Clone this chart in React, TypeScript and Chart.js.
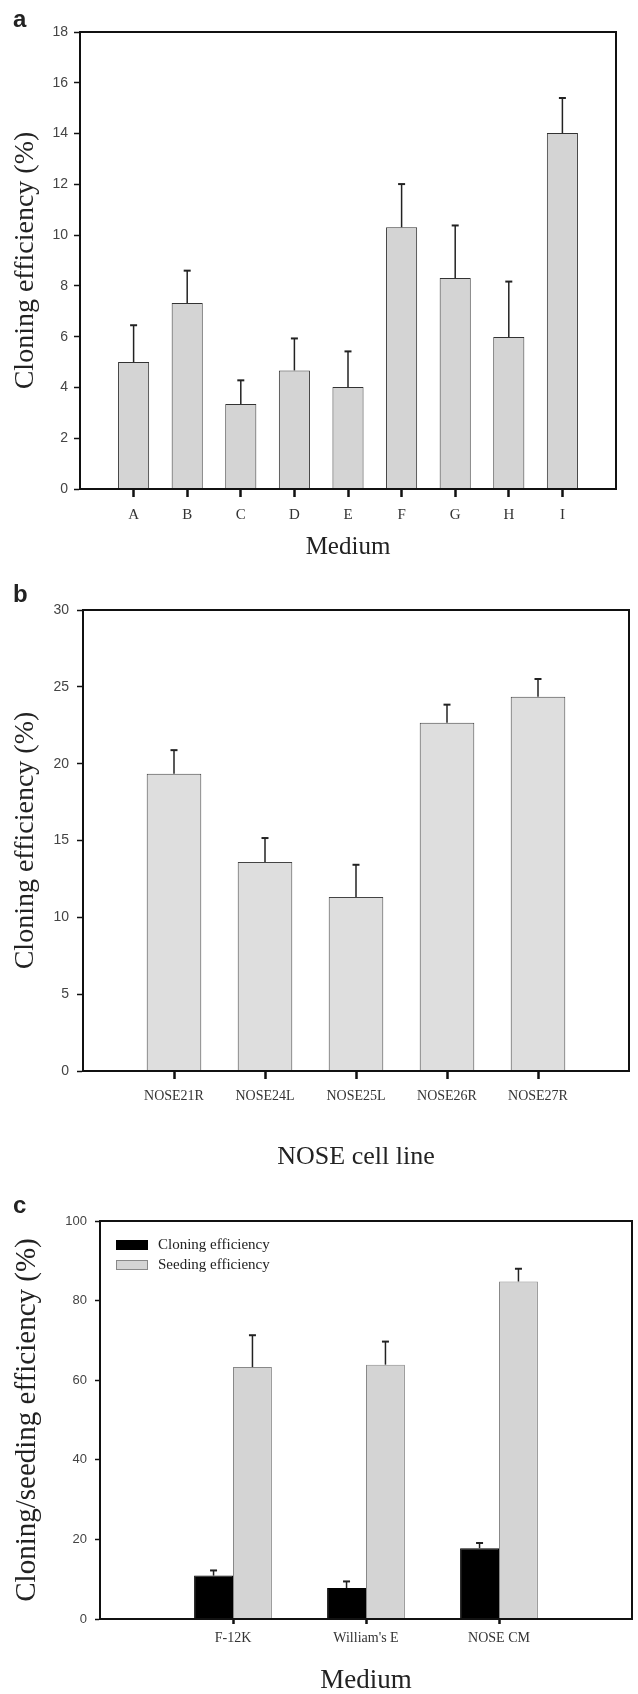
import React, { useEffect, useRef } from 'react';
import { Chart, registerables } from 'chart.js';
Chart.register(...registerables);

const SERIF = "'Liberation Serif', 'Times New Roman', serif";
const SANS = "'Liberation Sans', Arial, sans-serif";

// ---- Panel a ----
const A_CATEGORIES = ['A', 'B', 'C', 'D', 'E', 'F', 'G', 'H', 'I'];
const A_VALUES = [5.0, 7.33, 3.35, 4.67, 4.02, 10.31, 8.31, 5.99, 14.02];
const A_ERRORS = [1.45, 1.27, 0.93, 1.26, 1.4, 1.7, 2.07, 2.18, 1.38];

// ---- Panel b ----
const B_CATEGORIES = ['NOSE21R', 'NOSE24L', 'NOSE25L', 'NOSE26R', 'NOSE27R'];
const B_VALUES = [19.35, 13.6, 11.33, 22.67, 24.35];
const B_ERRORS = [1.53, 1.56, 2.09, 1.17, 1.16];

// ---- Panel c ----
const C_CATEGORIES = ['F-12K', "William's E", 'NOSE CM'];
const C_CLONING = [10.9, 7.77, 17.8];
const C_CLONING_ERR = [1.3, 1.67, 1.3];
const C_SEEDING = [63.3, 63.9, 84.8];
const C_SEEDING_ERR = [8.0, 5.8, 3.2];

const pad = (arr: any[]) => [null, ...arr, null];

const errorBarPlugin = {
  id: 'errorBars',
  afterDatasetsDraw(chart: any) {
    const ctx = chart.ctx;
    const y = chart.scales.y;
    chart.data.datasets.forEach((ds: any, di: number) => {
      const errs = ds.errors;
      if (!errs) return;
      const meta = chart.getDatasetMeta(di);
      meta.data.forEach((el: any, i: number) => {
        const v = ds.data[i];
        const e = errs[i];
        if (v == null || e == null) return;
        const top = y.getPixelForValue(v + e);
        const cap = ds.capWidth ?? 7;
        ctx.save();
        ctx.strokeStyle = '#222';
        ctx.lineWidth = 1.5;
        ctx.beginPath();
        ctx.moveTo(el.x, el.y);
        ctx.lineTo(el.x, top);
        ctx.stroke();
        ctx.lineWidth = 2;
        ctx.beginPath();
        ctx.moveTo(el.x - cap / 2, top);
        ctx.lineTo(el.x + cap / 2, top);
        ctx.stroke();
        ctx.restore();
      });
    });
  },
};

const framePlugin = {
  id: 'panelFrame',
  afterDraw(chart: any, _args: any, opts: any) {
    const ctx = chart.ctx;
    const a = chart.chartArea;
    ctx.save();
    ctx.strokeStyle = '#111';
    ctx.lineWidth = 2;
    ctx.strokeRect(a.left, a.top, a.right - a.left, a.bottom - a.top);
    if (opts && opts.letter) {
      ctx.fillStyle = '#222';
      ctx.font = `bold 24px ${SANS}`;
      ctx.textBaseline = 'alphabetic';
      ctx.textAlign = 'left';
      ctx.fillText(opts.letter, opts.x, opts.baseline);
    }
    ctx.restore();
  },
};

const boxLegendPlugin = {
  id: 'boxLegend',
  afterDraw(chart: any, _args: any, opts: any) {
    if (!opts || !opts.show) return;
    const ctx = chart.ctx;
    const a = chart.chartArea;
    ctx.save();
    chart.data.datasets.forEach((ds: any, i: number) => {
      const x = a.left + opts.dx;
      const y = a.top + opts.dy + i * opts.rowGap;
      ctx.fillStyle = ds.backgroundColor;
      ctx.fillRect(x, y, opts.boxW, opts.boxH);
      ctx.strokeStyle = ds.borderColor;
      ctx.lineWidth = 1;
      ctx.strokeRect(x + 0.5, y + 0.5, opts.boxW - 1, opts.boxH - 1);
      ctx.fillStyle = '#222';
      ctx.font = `15px ${SERIF}`;
      ctx.textBaseline = 'middle';
      ctx.textAlign = 'left';
      ctx.fillText(ds.label, x + opts.boxW + 10, y + opts.boxH / 2);
    });
    ctx.restore();
  },
};

function makeConfig(p: any) {
  const labels = ['', ...p.categories, ''];
  const n = labels.length;
  return {
    type: 'bar',
    data: {
      labels,
      datasets: p.series.map((s: any) => ({
        label: s.label,
        data: pad(s.values),
        errors: pad(s.errors),
        backgroundColor: s.fill,
        borderColor: s.stroke,
        borderWidth: 1,
        categoryPercentage: p.categoryPercentage,
        barPercentage: p.barPercentage,
        capWidth: 7,
      })),
    },
    options: {
      responsive: false,
      animation: false,
      devicePixelRatio: 1,
      layout: { padding: p.padding },
      plugins: {
        legend: { display: false },
        tooltip: { enabled: false },
        panelFrame: { letter: p.letter, x: 13, baseline: p.letterBaseline },
        boxLegend: p.legend || { show: false },
      },
      scales: {
        x: {
          offset: false,
          grid: {
            offset: false,
            drawOnChartArea: false,
            drawTicks: true,
            tickLength: p.xTickLength,
            tickWidth: 2.5,
            tickColor: (c: any) => (c.index === 0 || c.index === n - 1 ? 'rgba(0,0,0,0)' : '#111'),
          },
          border: { display: true, color: '#111', width: 2 },
          ticks: {
            autoSkip: false,
            maxRotation: 0,
            minRotation: 0,
            padding: p.xTickPad,
            color: '#333',
            font: { family: SERIF, size: p.xTickSize },
          },
          title: {
            display: true,
            text: p.xTitle,
            color: '#222',
            font: { family: SERIF, size: p.xTitleSize, lineHeight: 1 },
            padding: { top: p.xTitlePad, bottom: 0 },
          },
          afterFit: (s: any) => {
            s.height = p.xHeight;
          },
        },
        y: {
          min: 0,
          max: p.yMax,
          grid: {
            drawOnChartArea: false,
            drawTicks: true,
            tickLength: p.yTickLength,
            tickWidth: 1.5,
            tickColor: '#111',
          },
          border: { display: true, color: '#111', width: 2 },
          ticks: {
            stepSize: p.yStep,
            padding: p.yTickPad,
            color: '#444',
            font: { family: SANS, size: p.yTickSize },
          },
          title: {
            display: true,
            text: p.yTitle,
            color: '#222',
            font: { family: SERIF, size: p.yTitleSize, lineHeight: 1 },
            padding: { top: p.yTitlePad, bottom: 0 },
          },
          afterFit: (s: any) => {
            s.width = p.yWidth;
          },
        },
      },
    },
    plugins: [errorBarPlugin, framePlugin, boxLegendPlugin],
  };
}

const PANELS = [
  {
    top: 0,
    height: 560,
    cfg: makeConfig({
      categories: A_CATEGORIES,
      series: [{ label: 'Cloning efficiency', values: A_VALUES, errors: A_ERRORS, fill: '#d4d4d4', stroke: '#333' }],
      categoryPercentage: 1,
      barPercentage: 0.58,
      padding: { top: 32, right: 22, left: 0, bottom: 0 },
      letter: 'a',
      letterBaseline: 27,
      xTickLength: 8,
      xTickPad: 9,
      xTickSize: 15,
      xTitle: 'Medium',
      xTitleSize: 25,
      xTitlePad: 1,
      xHeight: 71,
      yMax: 18,
      yStep: 2,
      yTickLength: 6,
      yTickPad: 6,
      yTickSize: 14,
      yTitle: 'Cloning efficiency (%)',
      yTitleSize: 28,
      yTitlePad: 12,
      yWidth: 80,
    }),
  },
  {
    top: 560,
    height: 610,
    cfg: makeConfig({
      categories: B_CATEGORIES,
      series: [{ label: 'Cloning efficiency', values: B_VALUES, errors: B_ERRORS, fill: '#dedede', stroke: '#444' }],
      categoryPercentage: 1,
      barPercentage: 0.6,
      padding: { top: 50, right: 1, left: 0, bottom: 0 },
      letter: 'b',
      letterBaseline: 42,
      xTickLength: 8,
      xTickPad: 9,
      xTickSize: 14,
      xTitle: 'NOSE cell line',
      xTitleSize: 26,
      xTitlePad: 7,
      xHeight: 99,
      yMax: 30,
      yStep: 5,
      yTickLength: 6,
      yTickPad: 8,
      yTickSize: 14,
      yTitle: 'Cloning efficiency (%)',
      yTitleSize: 28,
      yTitlePad: 12,
      yWidth: 83,
    }),
  },
  {
    top: 1170,
    height: 524,
    cfg: makeConfig({
      categories: C_CATEGORIES,
      series: [
        { label: 'Cloning efficiency', values: C_CLONING, errors: C_CLONING_ERR, fill: '#000000', stroke: '#000000' },
        { label: 'Seeding efficiency', values: C_SEEDING, errors: C_SEEDING_ERR, fill: '#d4d4d4', stroke: '#888888' },
      ],
      categoryPercentage: 0.585,
      barPercentage: 1,
      padding: { top: 51, right: 1, left: 0, bottom: 0 },
      letter: 'c',
      letterBaseline: 43,
      legend: { show: true, dx: 16, dy: 19, rowGap: 20, boxW: 32, boxH: 10 },
      xTickLength: 5,
      xTickPad: 6,
      xTickSize: 14,
      xTitle: 'Medium',
      xTitleSize: 27,
      xTitlePad: 0,
      xHeight: 75,
      yMax: 100,
      yStep: 20,
      yTickLength: 5,
      yTickPad: 8,
      yTickSize: 13,
      yTitle: 'Cloning/seeding efficiency (%)',
      yTitleSize: 29,
      yTitlePad: 13,
      yWidth: 100,
    }),
  },
];

function ChartPanel({ top, height, cfg }: any) {
  const ref = useRef<HTMLCanvasElement | null>(null);
  useEffect(() => {
    if (!ref.current) return;
    const chart = new Chart(ref.current, cfg as any);
    return () => chart.destroy();
  }, []);
  return (
    <canvas
      ref={ref}
      width={638}
      height={height}
      style={{ position: 'absolute', left: 0, top, width: 638, height, display: 'block' }}
    />
  );
}

export default function App() {
  return (
    <div style={{ position: 'absolute', left: 0, top: 0, width: 638, height: 1694, background: '#fff' }}>
      {PANELS.map((p, i) => (
        <ChartPanel key={i} top={p.top} height={p.height} cfg={p.cfg} />
      ))}
    </div>
  );
}
